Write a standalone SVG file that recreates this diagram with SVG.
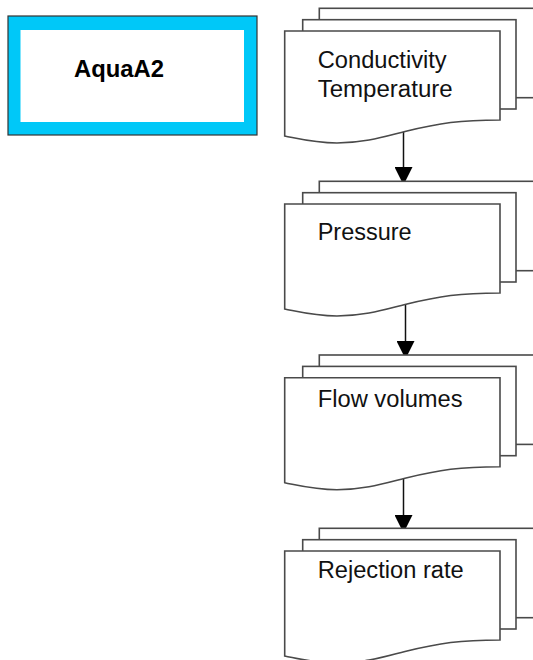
<svg xmlns="http://www.w3.org/2000/svg" width="533" height="660" viewBox="0 0 533 660">
<style>
.pg{fill:#fff;stroke:#4a4a4a;stroke-width:1.6}
.lbl{font-family:"Liberation Sans",Arial,sans-serif;font-size:23px;fill:#111}
.con{stroke:#111;stroke-width:1.5;fill:none}
</style>
<defs>
<marker id="ah" markerWidth="18" markerHeight="18" viewBox="0 0 18 18" refX="18" refY="9" orient="auto" markerUnits="userSpaceOnUse">
<path d="M0,0 L18,9 L0,18 Z" fill="#000"/>
</marker>
<g id="stack">
<rect class="pg" x="319.3" y="-22.7" width="230" height="89.4"/>
<rect class="pg" x="302.7" y="-11.3" width="213.3" height="89.3"/>
<path class="pg" d="M284.7,0 H500 V89 C460,89 440,92 405,100.5 C385,105.5 365,112 337,112 C315,112 300,108 284.7,105 Z"/>
</g>
</defs>
<g id="aquaA2">
<rect x="8" y="16" width="249" height="119" fill="#00c8f8" stroke="#333" stroke-width="1.2"/>
<rect x="20.5" y="30" width="223.5" height="92" fill="#fff"/>
<text x="74" y="76.5" font-family="Liberation Sans,Arial,sans-serif" font-weight="bold" font-size="23.5" textLength="90" lengthAdjust="spacingAndGlyphs" fill="#000">AquaA2</text>
</g>
<g id="connectors">
<line class="con" x1="403.5" y1="131" x2="403.5" y2="185" marker-end="url(#ah)"/>
<line class="con" x1="405.5" y1="304" x2="405.5" y2="359" marker-end="url(#ah)"/>
<line class="con" x1="403.5" y1="478" x2="403.5" y2="533" marker-end="url(#ah)"/>
</g>
<g id="node-conductivity">
<use href="#stack" transform="translate(0,31)"/>
<text class="lbl" x="317.7" y="68" textLength="129" lengthAdjust="spacingAndGlyphs">Conductivity</text>
<text class="lbl" x="317.7" y="97" textLength="135" lengthAdjust="spacingAndGlyphs">Temperature</text>
</g>
<g id="node-pressure">
<use href="#stack" transform="translate(0,204)"/>
<text class="lbl" x="317.7" y="239.5" textLength="94" lengthAdjust="spacingAndGlyphs">Pressure</text>
</g>
<g id="node-flow">
<use href="#stack" transform="translate(0,377.7)"/>
<text class="lbl" x="317.7" y="406.5" textLength="145" lengthAdjust="spacingAndGlyphs">Flow volumes</text>
</g>
<g id="node-rejection">
<use href="#stack" transform="translate(0,551)"/>
<text class="lbl" x="317.7" y="577.5" textLength="146" lengthAdjust="spacingAndGlyphs">Rejection rate</text>
</g>
</svg>
